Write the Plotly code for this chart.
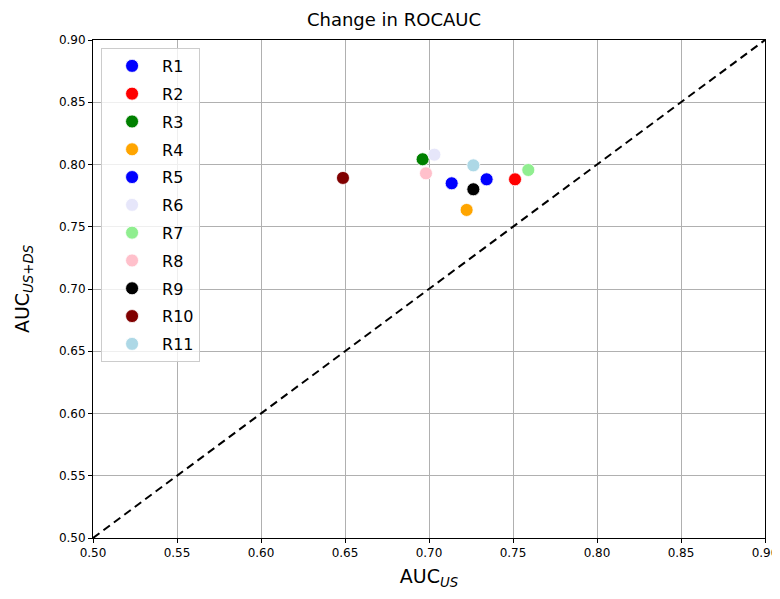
import plotly.graph_objects as go

labels = ["R1", "R2", "R3", "R4", "R5", "R6", "R7", "R8", "R9", "R10", "R11"]
auc_us = [0.7135, 0.7512, 0.6962, 0.7224, 0.7343, 0.7032, 0.7591, 0.6982, 0.7264, 0.6488, 0.7264]
auc_us_ds = [0.7849, 0.7881, 0.8042, 0.7635, 0.7881, 0.8079, 0.7956, 0.7929, 0.7801, 0.7892, 0.7993]
colors = ["blue", "red", "green", "orange", "blue", "lavender", "lightgreen", "pink", "black", "maroon", "lightblue"]
diag = [0.5, 0.9]
ticks = [0.50, 0.55, 0.60, 0.65, 0.70, 0.75, 0.80, 0.85, 0.90]

fig = go.Figure()
fig.add_trace(go.Scatter(x=diag, y=diag, mode="lines", showlegend=False,
                         line=dict(color="black", width=2, dash="8px,5px"), hoverinfo="skip"))
for lab, xv, yv, c in zip(labels, auc_us, auc_us_ds, colors):
    fig.add_trace(go.Scatter(x=[xv], y=[yv], mode="markers", name=lab, legendgroup=lab,
                             marker=dict(color=c, size=13, line=dict(color="white", width=0.8))))

axis_common = dict(range=[0.5, 0.9], tickvals=ticks, ticktext=[f"{t:.2f}" for t in ticks],
                   showgrid=True, gridcolor="#b0b0b0", gridwidth=1, zeroline=False,
                   showline=True, linecolor="black", linewidth=1, mirror=True,
                   ticks="outside", ticklen=4, tickcolor="black", automargin=False,
                   tickfont=dict(family="DejaVu Sans", size=12, color="black"))

fig.update_layout(
    width=772, height=591,
    margin=dict(l=85, r=15, t=32, b=61),
    paper_bgcolor="white", plot_bgcolor="white",
    title=dict(text="Change in ROCAUC", x=0.5, xanchor="center", y=0.98, yanchor="middle",
               font=dict(family="DejaVu Sans", size=18, color="black")),
    xaxis=dict(axis_common, title=dict(text="AUC<sub><i>US</i></sub>", standoff=10,
                                       font=dict(family="DejaVu Sans", size=19, color="black"))),
    yaxis=dict(axis_common, title=dict(text="AUC<sub><i>US+DS</i></sub>", standoff=24,
                                       font=dict(family="DejaVu Sans", size=19, color="black"))),
    legend=dict(x=0.012, y=0.984, xanchor="left", yanchor="top",
                bgcolor="rgba(255,255,255,0.8)", bordercolor="#cccccc", borderwidth=1,
                font=dict(family="DejaVu Sans", size=16, color="black"),
                itemsizing="trace", tracegroupgap=4, itemwidth=50),
    showlegend=True,
)

fig.write_html("out.html")
